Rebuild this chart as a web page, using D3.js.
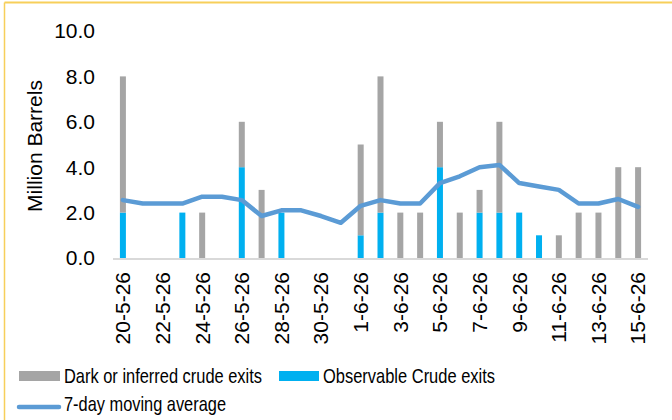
<!DOCTYPE html>
<html>
<head>
<meta charset="utf-8">
<script src="https://cdn.jsdelivr.net/npm/d3@7"></script>
<style>
  body { margin: 0; background: #fff; }
  text { font-family: "Liberation Sans", Arial, sans-serif; fill: #000; }
</style>
</head>
<body>
<script>
  // daily dates shown on the axis
  const dates = ["20-5-26","21-5-26","22-5-26","23-5-26","24-5-26","25-5-26","26-5-26","27-5-26","28-5-26",
    "29-5-26","30-5-26","31-5-26","1-6-26","2-6-26","3-6-26","4-6-26","5-6-26","6-6-26","7-6-26","8-6-26",
    "9-6-26","10-6-26","11-6-26","12-6-26","13-6-26","14-6-26","15-6-26"];
  const darkExits  = [6,0,0,0,2,0,2,3,0,0,0,0,4,6,2,2,2,2,1,4,0,0,1,2,2,4,4];
  const observable = [2,0,0,2,0,0,4,0,2,0,0,0,1,2,0,0,4,0,2,2,2,1,0,0,0,0,0];
  const movingAvg  = [2.55,2.4,2.4,2.4,2.7,2.7,2.55,1.85,2.1,2.1,1.85,1.55,2.3,2.55,2.4,2.4,3.3,3.6,4.0,4.1,3.3,3.15,3.0,2.4,2.4,2.6,2.25];
  const yTicks = [0,2,4,6,8,10];

  const W = 672, H = 420;
  const margin = {top: 31, left: 113, right: 24, bottom: 162};
  const width = W - margin.left - margin.right;
  const height = H - margin.top - margin.bottom;
  const fs = '21px';

  const svg = d3.select('body').append('svg')
    .attr('width', W)
    .attr('height', H);

  // frame lines (top + left)
  svg.append('line').attr('x1', 4.5).attr('x2', W).attr('y1', 2.5).attr('y2', 2.5)
    .attr('stroke', '#f7cf5a').attr('stroke-width', 2);
  svg.append('line').attr('x1', 4.5).attr('x2', 4.5).attr('y1', 2.5).attr('y2', H)
    .attr('stroke', '#f7cf5a').attr('stroke-width', 1.5);

  const g = svg.append('g')
    .attr('transform', 'translate(' + margin.left + ',' + margin.top + ')');

  const x = d3.scaleBand().domain(dates).range([0, width]);
  const y = d3.scaleLinear().domain([0, 10]).range([height, 0]);

  const barW = 6;
  const data = dates.map(function(d, i) {
    return {date: d, obs: observable[i], dark: darkExits[i], avg: movingAvg[i]};
  });

  // observable (bottom)
  g.selectAll('.obs').data(data).enter().append('rect')
    .attr('class', 'obs')
    .attr('x', function(d) { return x(d.date) + x.bandwidth() / 2 - barW / 2; })
    .attr('width', barW)
    .attr('y', function(d) { return y(d.obs); })
    .attr('height', function(d) { return y(0) - y(d.obs); })
    .attr('fill', '#00b0f0');

  // dark (stacked on top)
  g.selectAll('.dark').data(data).enter().append('rect')
    .attr('class', 'dark')
    .attr('x', function(d) { return x(d.date) + x.bandwidth() / 2 - barW / 2; })
    .attr('width', barW)
    .attr('y', function(d) { return y(d.obs + d.dark); })
    .attr('height', function(d) { return y(d.obs) - y(d.obs + d.dark); })
    .attr('fill', '#a5a5a5');

  // x axis line
  g.append('line')
    .attr('x1', 0).attr('x2', width)
    .attr('y1', y(0) + 1).attr('y2', y(0) + 1)
    .attr('stroke', '#d9d9d9').attr('stroke-width', 2);

  // moving average
  const line = d3.line()
    .x(function(d) { return x(d.date) + x.bandwidth() / 2; })
    .y(function(d) { return y(d.avg); });

  g.append('path')
    .datum(data)
    .attr('d', line)
    .attr('fill', 'none')
    .attr('stroke', '#5b9bd5')
    .attr('stroke-width', 4.5)
    .attr('stroke-linejoin', 'round')
    .attr('stroke-linecap', 'round');

  // y tick labels
  g.selectAll('.ytick').data(yTicks).enter().append('text')
    .attr('class', 'ytick')
    .attr('x', -18)
    .attr('y', function(d) { return y(d); })
    .attr('dy', '0.35em')
    .attr('text-anchor', 'end')
    .attr('font-size', fs)
    .text(function(d) { return d.toFixed(1); });

  // x tick labels, every other day
  g.selectAll('.xtick').data(dates.filter(function(d, i) { return i % 2 === 0; })).enter().append('text')
    .attr('class', 'xtick')
    .attr('transform', function(d) {
      return 'translate(' + (x(d) + x.bandwidth() / 2) + ',' + (height + 14) + ') rotate(-90)';
    })
    .attr('dy', '0.35em')
    .attr('text-anchor', 'end')
    .attr('font-size', fs)
    .text(function(d) { return d; });

  // y axis title
  svg.append('text')
    .attr('transform', 'translate(35,146) rotate(-90)')
    .attr('dy', '0.35em')
    .attr('text-anchor', 'middle')
    .attr('font-size', fs)
    .text('Million Barrels');

  // legend (condensed text)
  const leg = svg.append('g');
  leg.append('rect').attr('x', 19).attr('y', 371).attr('width', 41).attr('height', 10).attr('fill', '#a5a5a5');
  leg.append('text').attr('x', 64).attr('y', 376).attr('dy', '0.35em').attr('font-size', fs)
    .attr('textLength', 198).attr('lengthAdjust', 'spacingAndGlyphs')
    .text('Dark or inferred crude exits');
  leg.append('rect').attr('x', 279).attr('y', 371).attr('width', 40).attr('height', 10).attr('fill', '#00b0f0');
  leg.append('text').attr('x', 323).attr('y', 376).attr('dy', '0.35em').attr('font-size', fs)
    .attr('textLength', 172).attr('lengthAdjust', 'spacingAndGlyphs')
    .text('Observable Crude exits');
  leg.append('line').attr('x1', 19).attr('x2', 59).attr('y1', 407).attr('y2', 407)
    .attr('stroke', '#5b9bd5').attr('stroke-width', 4.5).attr('stroke-linecap', 'round');
  leg.append('text').attr('x', 64).attr('y', 404).attr('dy', '0.35em').attr('font-size', fs)
    .attr('textLength', 162).attr('lengthAdjust', 'spacingAndGlyphs')
    .text('7-day moving average');
</script>
</body>
</html>
